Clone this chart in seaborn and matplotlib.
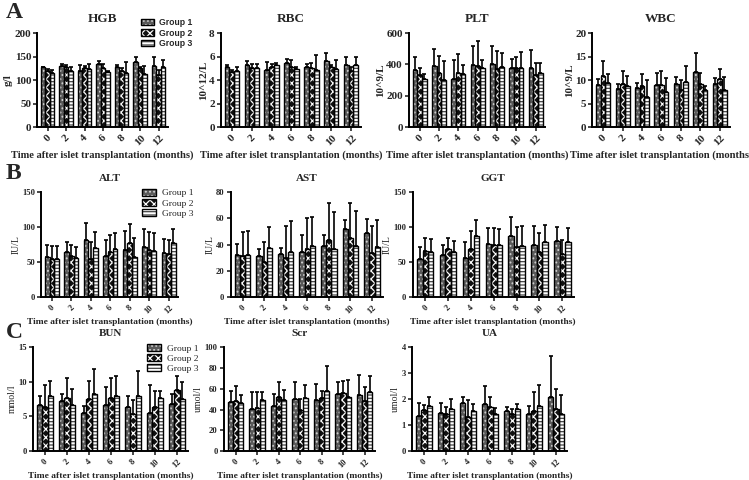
import numpy as np
import pandas as pd
import seaborn as sns
import matplotlib.pyplot as plt
from matplotlib.patches import Patch, Rectangle

months = ["0", "2", "4", "6", "8", "10", "12"]
groups = ["Group 1", "Group 2", "Group 3"]

# means per group (Group 1, 2, 3) and upper SD
hgb_mean = [[127, 130, 120, 135, 128, 138, 130],
            [119, 127, 126, 125, 120, 125, 110],
            [115, 120, 124, 117, 115, 113, 128]]
hgb_sd = [[2, 5, 12, 6, 5, 11, 20],
          [5, 6, 5, 10, 6, 3, 12],
          [7, 8, 10, 2, 24, 17, 15]]

rbc_mean = [[5.15, 5.3, 4.9, 5.45, 5.15, 5.6, 5.25],
            [4.7, 5.05, 5.1, 5.1, 5.05, 5.1, 4.75],
            [4.8, 5.0, 5.25, 4.95, 4.9, 4.95, 5.25]]
rbc_sd = [[0.15, 0.3, 0.65, 0.35, 0.2, 0.7, 0.75],
          [0.2, 0.3, 0.3, 0.6, 0.45, 0.15, 0.35],
          [0.35, 0.35, 0.25, 0.2, 1.2, 0.8, 0.7]]

plt_mean = [[362, 388, 310, 395, 405, 375, 380],
            [333, 343, 343, 390, 368, 378, 333],
            [305, 300, 338, 375, 383, 378, 343]]
plt_sd = [[88, 110, 118, 123, 113, 58, 115],
          [42, 110, 122, 157, 115, 67, 77],
          [37, 120, 58, 53, 90, 103, 68]]

wbc_mean = [[9.0, 8.2, 8.4, 9.0, 9.1, 11.7, 9.1],
            [10.8, 9.2, 8.7, 8.9, 8.0, 9.2, 10.2],
            [9.3, 8.7, 6.5, 7.5, 9.6, 7.9, 8.0]]
wbc_sd = [[1.3, 0.9, 0.9, 2.6, 1.5, 4.1, 1.4],
          [3.2, 2.7, 2.6, 3.0, 2.1, 2.3, 2.1],
          [2.0, 2.2, 3.6, 2.9, 3.5, 0.9, 2.6]]

alt_mean = [[57, 64, 82, 58, 67, 71, 63],
            [54, 58, 54, 65, 77, 67, 62],
            [55, 56, 70, 68, 57, 66, 77]]
alt_sd = [[18, 15, 24, 23, 27, 26, 20],
          [19, 16, 25, 23, 28, 26, 20],
          [18, 15, 23, 23, 27, 25, 20]]

ast_mean = [[32, 31.5, 33, 34.5, 39, 52, 49],
            [31, 27, 30, 37, 43.5, 45, 33.5],
            [32, 37.5, 34, 39, 36.5, 39, 38]]
ast_sd = [[8.5, 5, 4.5, 12.5, 8.5, 6.5, 10.5],
          [18.5, 15, 24.5, 23, 28, 26.5, 21],
          [18, 15.5, 24, 22, 28, 26.5, 21]]

ggt_mean = [[54, 60, 56, 76, 87, 74, 80],
            [66, 69, 69, 75, 72, 65, 61],
            [65, 65, 87, 74.5, 73, 78, 79]]
ggt_sd = [[18, 14, 23, 22, 27, 27, 20],
          [18, 15, 25, 23, 28, 26, 21],
          [18, 15, 23, 23, 28, 25, 19]]

bun_mean = [[6.7, 7.3, 5.5, 6.7, 6.4, 5.5, 6.85],
            [6.35, 7.7, 7.45, 7.6, 5.3, 6.3, 8.75],
            [8.0, 6.7, 8.2, 7.95, 8.0, 7.7, 7.45]]
bun_sd = [[1.3, 0.9, 1.0, 2.5, 1.5, 4.1, 1.45],
          [3.25, 2.9, 2.65, 3.0, 2.05, 2.4, 2.15],
          [2.05, 2.2, 3.6, 2.95, 3.6, 1.0, 2.55]]

scr_mean = [[47, 40.5, 43, 50, 49.5, 54.5, 53.5],
            [48.5, 41, 52, 40, 51, 56, 48],
            [46.5, 49, 49, 51, 58, 52, 56.5]]
scr_sd = [[10.5, 16, 12, 16, 15, 12, 20],
          [14.5, 16, 14.5, 10, 6.5, 11.5, 13.5],
          [7, 8, 10, 13, 23.5, 16.5, 15.5]]

ua_mean = [[1.36, 1.47, 1.85, 1.81, 1.54, 1.44, 2.1],
           [1.6, 1.42, 1.32, 1.69, 1.44, 1.53, 1.62],
           [1.72, 1.63, 1.54, 1.44, 1.63, 1.72, 1.42]]
ua_sd = [[0.49, 0.38, 0.25, 0.7, 0.15, 0.3, 1.57],
         [0.17, 0.27, 0.63, 0.41, 0.18, 0.73, 0.75],
         [0.36, 0.37, 0.26, 0.23, 0.17, 0.82, 0.72]]

sns.set_theme(style="ticks")
plt.rcParams["font.family"] = ["Liberation Serif", "DejaVu Serif"]
plt.rcParams["hatch.linewidth"] = 0.9

# (facecolor, hatch, hatch colour) for each group
bar_styles = [("#5a5a5a", "....", "#d0d0d0"),
              ("#111111", "xxxx", "white"),
              ("white", "-----", "#444444")]

fig = plt.figure(figsize=(7.49, 4.80), dpi=100)


def style_bar(ax, b, fc, hatch, hc):
    b.set_facecolor(fc)
    b.set_hatch(hatch)
    b.set_edgecolor(hc)  # hatch takes the edge colour
    b.set_linewidth(0)
    # black outline on top of the hatched bar
    ax.add_patch(Rectangle(b.get_xy(), b.get_width(), b.get_height(),
                           fill=False, edgecolor="black", linewidth=1.0,
                           zorder=b.get_zorder() + 0.1))


def draw_panel(rect, title, ylabel, mean, sd, ymax, step, small=False):
    ax = fig.add_axes(rect)
    df = pd.DataFrame(
        [(m, g, v) for g, vals in zip(groups, mean) for m, v in zip(months, vals)],
        columns=["month", "group", "value"],
    )
    sns.barplot(data=df, x="month", y="value", hue="group", order=months,
                hue_order=groups, errorbar=None, width=0.72, ax=ax,
                legend=False)
    for cont, errs, (fc, hatch, hc) in zip(ax.containers, sd, bar_styles):
        for b in cont:
            style_bar(ax, b, fc, hatch, hc)
        xs = [b.get_x() + b.get_width() / 2 for b in cont]
        ys = [b.get_height() for b in cont]
        ax.errorbar(xs, ys, yerr=[np.zeros(len(errs)), errs], fmt="none",
                    ecolor="black", elinewidth=1.2, capsize=1.5, capthick=1.2,
                    zorder=3)
    ax.set_xlim(-0.55, 6.5)
    ax.set_ylim(0, ymax)
    ax.set_yticks(np.arange(0, ymax + step / 2, step))
    sns.despine(ax=ax)
    for s in ["left", "bottom"]:
        ax.spines[s].set_linewidth(1.4)
        ax.spines[s].set_color("black")
    tsize = 6.2 if small else 8
    ax.tick_params(length=3, width=1.2, labelsize=tsize, pad=1.5)
    ax.set_xticks(range(len(months)))
    ax.set_xticklabels(months, rotation=45, ha="center", va="top",
                       fontweight="bold")
    for lab in ax.get_yticklabels():
        lab.set_fontweight("bold")
    ax.set_title(title, fontsize=8 if small else 9.5, fontweight="bold",
                 pad=8)
    ax.set_xlabel("Time after islet transplantation (months)",
                  fontsize=6.8 if small else 7.6, fontweight="bold", labelpad=2)
    ax.set_ylabel(ylabel, fontsize=7 if small else 8,
                  fontweight="normal" if small else "bold", labelpad=1)
    return ax


def add_legend(ax, anchor, family, size, weight):
    handles = []
    for fc, h, hc in bar_styles:
        fill = Patch(facecolor=fc, hatch=h, edgecolor=hc, linewidth=0)
        outline = Patch(fill=False, edgecolor="black", linewidth=1.0)
        handles.append((fill, outline))
    ax.legend(handles, groups, loc="upper left", bbox_to_anchor=anchor,
              bbox_transform=fig.transFigure, frameon=False,
              prop={"family": family, "size": size, "weight": weight},
              handlelength=1.5, handleheight=0.75, handletextpad=0.6,
              labelspacing=0.15, borderaxespad=0, borderpad=0)


# row A
yA, hA = 0.735, 0.196
ax_hgb = draw_panel([0.05, yA, 0.174, hA], "HGB", "g/l", hgb_mean, hgb_sd, 200, 50)
draw_panel([0.295, yA, 0.187, hA], "RBC", "10^12/L", rbc_mean, rbc_sd, 8, 2)
draw_panel([0.546, yA, 0.182, hA], "PLT", "10^9/L", plt_mean, plt_sd, 600, 200)
draw_panel([0.791, yA, 0.183, hA], "WBC", "10^9/L", wbc_mean, wbc_sd, 20, 5)
add_legend(ax_hgb, (0.188, 0.962), ["Liberation Sans", "DejaVu Sans"], 6.2, "bold")

# row B
yB, hB = 0.381, 0.219
ax_alt = draw_panel([0.055, yB, 0.183, hB], "ALT", "IU/L", alt_mean, alt_sd, 150, 50, small=True)
draw_panel([0.308, yB, 0.203, hB], "AST", "IU/L", ast_mean, ast_sd, 80, 20, small=True)
draw_panel([0.551, yB, 0.215, hB], "GGT", "IU/L", ggt_mean, ggt_sd, 150, 50, small=True)
add_legend(ax_alt, (0.19, 0.607), ["Liberation Serif", "DejaVu Serif"], 6.8, "normal")

# row C
yC, hC = 0.060, 0.217
ax_bun = draw_panel([0.044, yC, 0.207, hC], "BUN", "mmol/l", bun_mean, bun_sd, 15, 5, small=True)
draw_panel([0.299, yC, 0.202, hC], "Scr", "umol/l", scr_mean, scr_sd, 100, 20, small=True)
draw_panel([0.550, yC, 0.207, hC], "UA", "umol/l", ua_mean, ua_sd, 4, 1, small=True)
add_legend(ax_bun, (0.196, 0.283), ["Liberation Serif", "DejaVu Serif"], 6.8, "normal")

for letter, y in [("A", 0.995), ("B", 0.66), ("C", 0.33)]:
    fig.text(0.008, y, letter, fontsize=17, fontweight="bold", va="top")

plt.savefig("out.png", dpi=100)
